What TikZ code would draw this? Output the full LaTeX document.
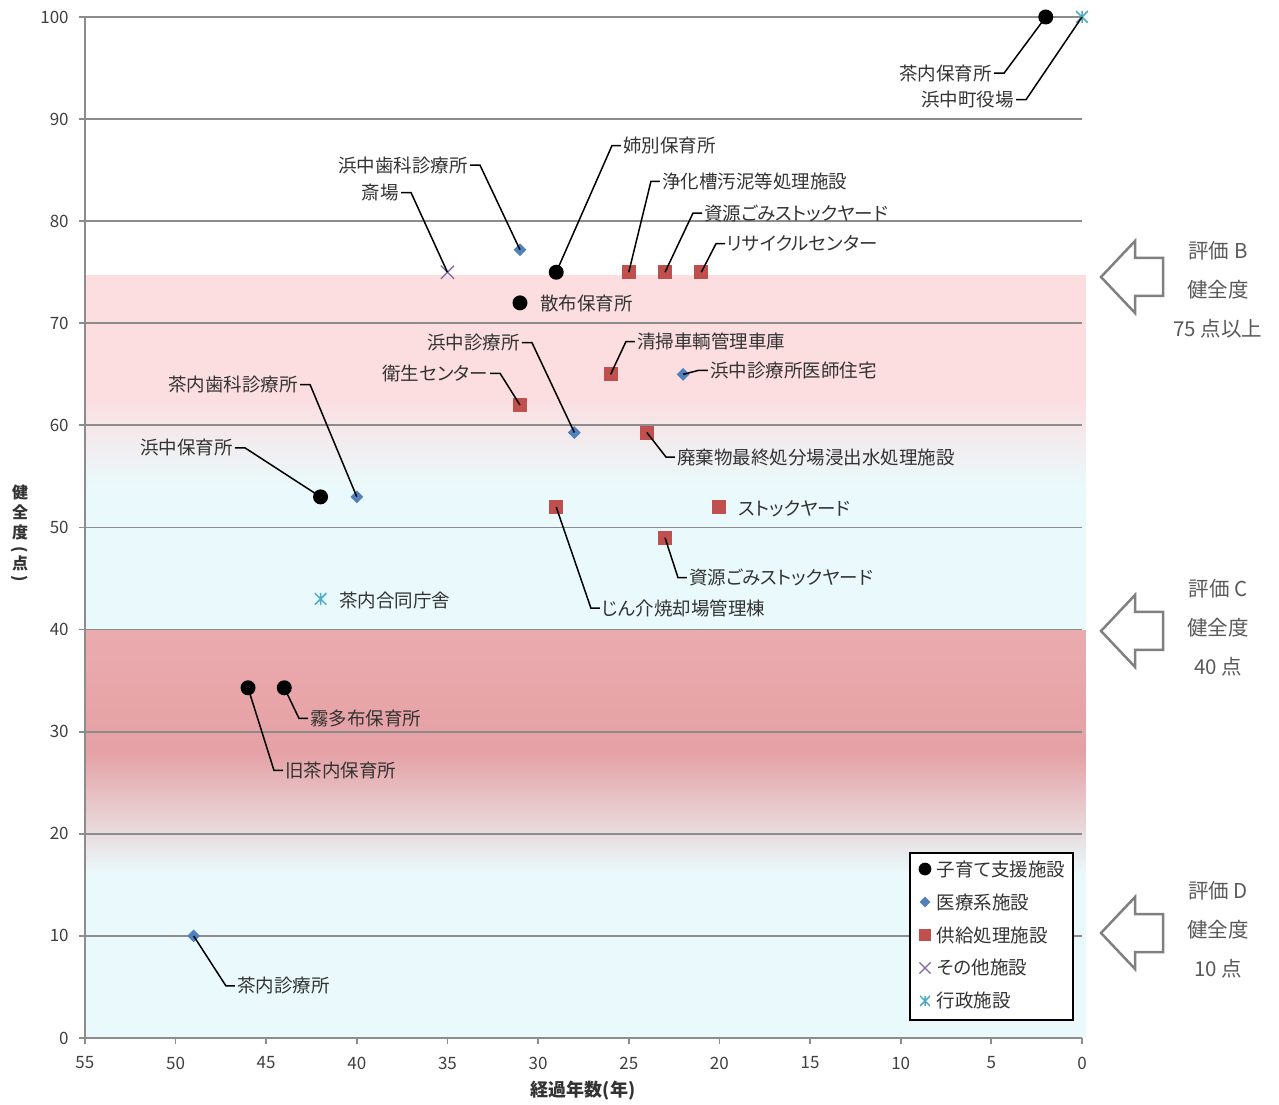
\documentclass[tikz,border=0pt]{standalone}
\usepackage{fontspec}
\setmainfont{Noto Sans CJK JP}[CharacterWidth=AlternateProportional]
\usetikzlibrary{positioning, shapes.geometric, shapes.misc, calc}

\definecolor{iryoblue}{RGB}{79,129,189}
\definecolor{kyokyured}{RGB}{192,80,77}
\definecolor{sonotapurple}{RGB}{128,100,162}
\definecolor{gyoseicyan}{RGB}{75,172,198}
\definecolor{gridgray}{RGB}{140,140,140}
\definecolor{pinklight}{RGB}{252,221,224}
\definecolor{cyanlight}{RGB}{234,250,252}
\definecolor{pinkdark}{RGB}{235,171,174}
\definecolor{pinkdarker}{RGB}{229,161,165}
\definecolor{notegray}{RGB}{89,89,89}

\begin{document}
\begin{tikzpicture}[
    x=1pt, y=1pt,
    % Styles
    lbl/.style={
        inner sep=2pt,
        text=black!80,
        font=\fontsize{18.5}{20}\selectfont
    },
    ticklbl/.style={
        inner sep=0pt,
        text=black!75,
        font=\fontsize{17}{18}\selectfont
    },
    leader/.style={
        draw=black,
        line width=1.5pt
    },
    grid/.style={
        draw=gridgray,
        line width=1.8pt
    },
    kodomo/.style={ % Child care
        circle,
        fill=black,
        inner sep=0pt,
        minimum size=15pt
    },
    iryo/.style={ % Medical
        diamond,
        fill=iryoblue,
        inner sep=0pt,
        minimum size=13pt
    },
    kyokyu/.style={ % Supply
        rectangle,
        fill=kyokyured,
        inner sep=0pt,
        minimum size=14pt
    },
    sonota/.style={ % Other
        cross out,
        draw=sonotapurple,
        line width=1.2pt,
        inner sep=0pt,
        minimum size=12pt
    },
    gyosei/.style={ % Administration
        rectangle,
        inner sep=0pt,
        minimum size=12pt,
        path picture={
            \draw[gyoseicyan, line width=1.5pt]
                (path picture bounding box.north west) -- (path picture bounding box.south east)
                (path picture bounding box.south west) -- (path picture bounding box.north east)
                (path picture bounding box.north) -- (path picture bounding box.south);
        }
    },
    evalarrow/.style={
        draw=gray,
        line width=2.5pt,
        fill=white,
        line join=miter
    },
    note/.style={
        align=center,
        text=notegray,
        font=\fontsize{20.5}{39}\selectfont
    }
]
    \useasboundingbox (0,0) rectangle (1279,1104);

    \begin{scope}[shift={(1082,66)}, x={(-18.13pt,0pt)}, y={(0pt,10.21pt)}]

        % Background bands
        \fill[cyanlight] (55,0) rectangle (-0.2,16);
        \shade[top color=pinkdarker, bottom color=cyanlight] (55,16) rectangle (-0.2,28);
        \shade[top color=pinkdark, bottom color=pinkdarker] (55,28) rectangle (-0.2,40);
        \fill[cyanlight] (55,40) rectangle (-0.2,54);
        \shade[top color=pinklight, bottom color=cyanlight] (55,54) rectangle (-0.2,63);
        \fill[pinklight] (55,63) rectangle (-0.2,74.7);

        % Grid and axes
        \foreach \h in {10,20,...,100} {
            \draw[grid] (55,\h) -- (0,\h);
        }
        \foreach \h in {0,10,...,100} {
            \draw[grid] (55,\h) -- ++(-6pt,0);
            \node[ticklbl, anchor=east] (yt\h) at ([xshift=-16pt]55,\h) {\h};
        }
        \foreach \a in {0,5,...,55} {
            \draw[grid] (\a,0) -- ++(0,-6pt);
            \node[ticklbl] (xt\a) at ([yshift=-25pt]\a,0) {\a};
        }
        \draw[grid] (55,100) -- (55,0) -- (0,0);

        % Facilities
        \node[kodomo] (chanaiHo) at (2,100) {};
        \node[gyosei] (hamaYaku) at (0,100) {};
        \node[iryo] (hamaShika) at (31,77.2) {};
        \node[sonota] (saijo) at (35,75) {};
        \node[kodomo] (anbetsu) at (29,75) {};
        \node[kyokyu] (joka) at (25,75) {};
        \node[kyokyu] (shigenA) at (23,75) {};
        \node[kyokyu] (recycle) at (21,75) {};
        \node[kodomo] (sanpu) at (31,72) {};
        \node[iryo] (hamaShin) at (28,59.3) {};
        \node[kyokyu] (eisei) at (31,62) {};
        \node[kyokyu] (seiso) at (26,65) {};
        \node[iryo] (ishiJu) at (22,65) {};
        \node[kyokyu] (haiki) at (24,59.3) {};
        \node[iryo] (chanaiShika) at (40,53) {};
        \node[kodomo] (hamaHo) at (42,53) {};
        \node[kyokyu] (stock) at (20,52) {};
        \node[kyokyu] (jinkai) at (29,52) {};
        \node[kyokyu] (shigenB) at (23,49) {};
        \node[gyosei] (godo) at (42,43) {};
        \node[kodomo] (kiritappu) at (44,34.3) {};
        \node[kodomo] (kyuChanai) at (46,34.3) {};
        \node[iryo] (chanaiShin) at (49,10) {};

        % Labels
        \node[lbl, anchor=east] (chanaiHoL) at (4.85,94.5) {茶内保育所};
        \node[lbl, anchor=east] (hamaYakuL) at (3.64,91.9) {浜中町役場};
        \node[lbl, anchor=east] (hamaShikaL) at (33.76,85.5) {浜中歯科診療所};
        \node[lbl, anchor=east] (saijoL) at (37.56,82.8) {斎場};
        \node[lbl, anchor=west] (anbetsuL) at (25.43,87.4) {姉別保育所};
        \node[lbl, anchor=west] (jokaL) at (23.28,83.9) {浄化槽汚泥等処理施設};
        \node[lbl, anchor=west] (shigenAL) at (20.96,80.8) {資源ごみストックヤード};
        \node[lbl, anchor=west] (recycleL) at (19.69,77.8) {リサイクルセンター};
        \node[lbl, anchor=west] (sanpuL) at (30.0,71.9) {散布保育所};
        \node[lbl, anchor=east] (hamaShinL) at (30.89,68.1) {浜中診療所};
        \node[lbl, anchor=east] (eiseiL) at (32.65,65.1) {衛生センター};
        \node[lbl, anchor=west] (seisoL) at (24.66,68.2) {清掃車輌管理車庫};
        \node[lbl, anchor=west] (ishiJuL) at (20.63,65.4) {浜中診療所医師住宅};
        \node[lbl, anchor=west] (haikiL) at (22.45,56.9) {廃棄物最終処分場浸出水処理施設};
        \node[lbl, anchor=east] (chanaiShikaL) at (43.13,64.0) {茶内歯科診療所};
        \node[lbl, anchor=east] (hamaHoL) at (46.72,57.8) {浜中保育所};
        \node[lbl, anchor=west] (stockL) at (19.08,51.8) {ストックヤード};
        \node[lbl, anchor=west] (jinkaiL) at (26.59,42.1) {じん介焼却場管理棟};
        \node[lbl, anchor=west] (shigenBL) at (21.79,45.1) {資源ごみストックヤード};
        \node[lbl, anchor=west] (godoL) at (41.09,42.9) {茶内合同庁舎};
        \node[lbl, anchor=west] (kiritappuL) at (42.69,31.3) {霧多布保育所};
        \node[lbl, anchor=west] (kyuChanaiL) at (44.07,26.2) {旧茶内保育所};
        \node[lbl, anchor=west] (chanaiShinL) at (46.72,5.1) {茶内診療所};

        % Leader lines
        \foreach \n in {chanaiHo, hamaYaku, hamaShika, saijo, hamaShin, eisei, chanaiShika, hamaHo} {
            \draw[leader] (\n L.east) -- ++(10pt,0) -- (\n.center);
        }
        \foreach \n in {anbetsu, joka, shigenA, recycle, seiso, ishiJu, haiki, jinkai, shigenB, kiritappu, kyuChanai, chanaiShin} {
            \draw[leader] (\n L.west) -- ++(-9pt,0) -- (\n.center);
        }

        % Legend
        \draw[fill=white, line width=1.5pt] (9.49,18.12) rectangle (0.5,1.76);
        \foreach \i/\s/\t in {1/kodomo/子育て支援施設, 2/iryo/医療系施設, 3/kyokyu/供給処理施設, 4/sonota/その他施設, 5/gyosei/行政施設} {
            \pgfmathsetmacro{\hy}{16.55-(\i-1)*3.23}
            \node[\s, scale=0.85] (lg\i) at (8.66,\hy) {};
            \node[lbl, anchor=west] (lgt\i) at (8.12,\hy) {\t};
        }
    \end{scope}

    % Axis titles
    \node[font=\fontsize{18}{20}\selectfont\bfseries, text=black!80] (xtitle) at (583,13) {経過年数(年)};
    \node[align=center, font=\fontsize{16}{20}\selectfont\bfseries, text=black!80] (ytitle) at (20,570)
        {健\\全\\度\\[-4pt]\rotatebox[origin=c]{-90}{(}\\[-5pt]点\\[-6pt]\rotatebox[origin=c]{-90}{)}};

    % Evaluation arrows
    \foreach \ay/\ty/\g/\s in {827/814/B/75 点以上, 473/476/C/40 点, 171/174/D/10 点} {
        \draw[evalarrow] (1101,\ay) -- ++(34,36) -- ++(0,-17) -- ++(28,0) -- ++(0,-38) -- ++(-28,0) -- ++(0,-17) -- cycle;
        \node[note] (note\g) at (1218,\ty) {評価 \g\\健全度\\\s};
    }
\end{tikzpicture}
\end{document}
